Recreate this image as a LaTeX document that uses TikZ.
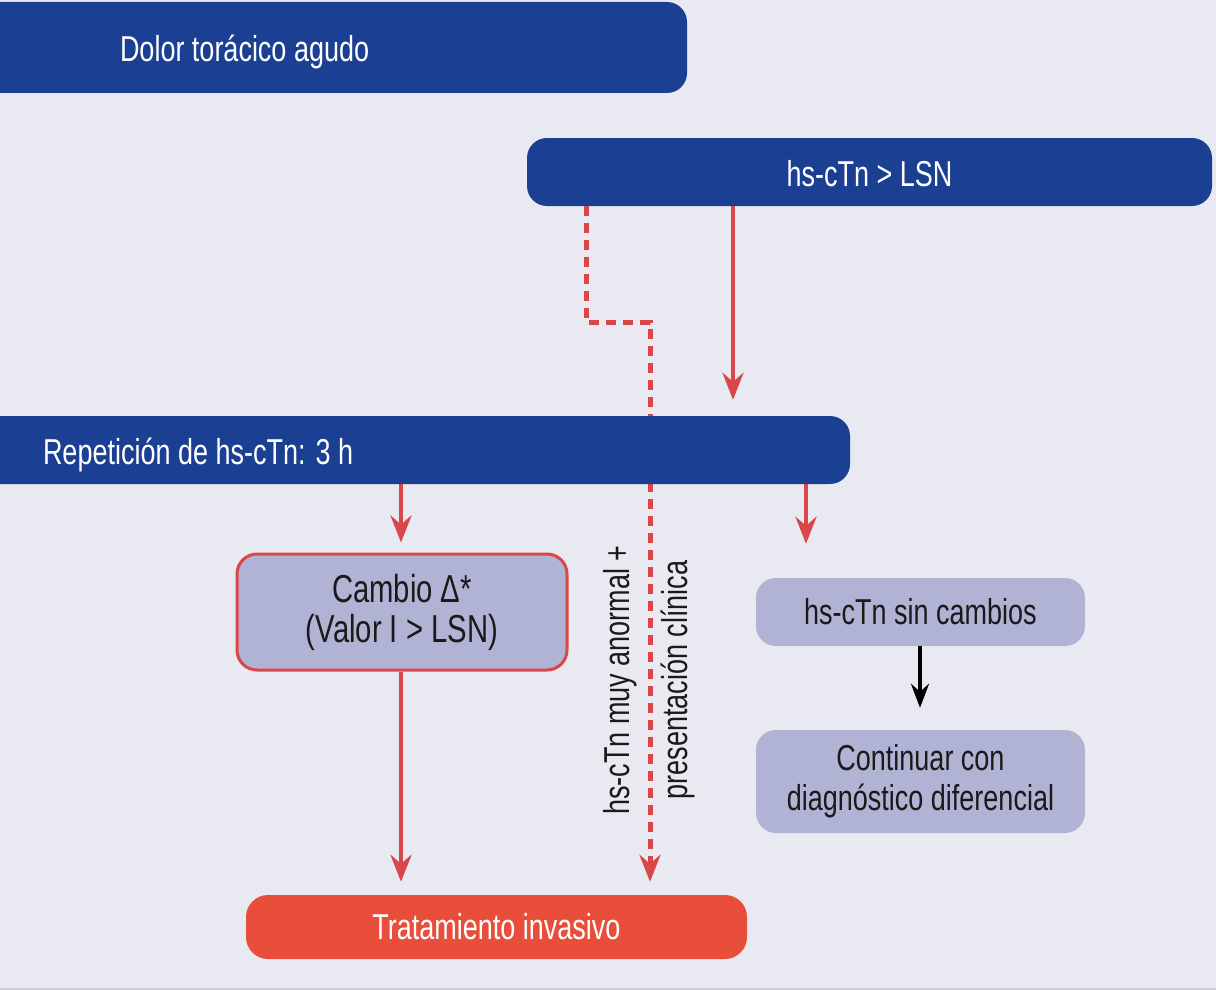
\documentclass[tikz,border=0pt]{standalone}
\usepackage{fontspec}
\setmainfont{Liberation Sans}[FakeStretch=0.75]
\usetikzlibrary{arrows.meta}
\definecolor{bg}{HTML}{E8E9F1}
\definecolor{dblue}{HTML}{1B3F93}
\definecolor{lred}{HTML}{D9474B}
\definecolor{lpurp}{HTML}{B0B3D4}
\definecolor{tred}{HTML}{E94E3B}
\definecolor{dtext}{HTML}{1A1A1A}
\definecolor{edge}{HTML}{D2CBD3}
\tikzset{
  bluebox/.style={fill=dblue, rounded corners=20pt, text=white, inner ysep=0pt,
    text height=29pt, text depth=1pt, font=\fontsize{36}{40}\selectfont},
  purpbox/.style={fill=lpurp, rounded corners=20pt, text=dtext, inner sep=0pt,
    align=center, font=\fontsize{36}{40}\selectfont},
  redbox/.style={fill=tred, rounded corners=22pt, text=white, inner sep=0pt,
    font=\fontsize{36}{40}\selectfont},
  arr/.style={draw=lred, line width=4.5pt,
    -{Stealth[length=27pt,width=21pt,inset=9pt]}},
  darr/.style={draw=lred, line width=5pt, dash pattern=on 10pt off 7pt,
    -{Stealth[length=27pt,width=21pt,inset=9pt]}},
  karr/.style={draw=black, line width=4pt,
    -{Stealth[length=24pt,width=18pt,inset=8pt]}},
}
\begin{document}
\begin{tikzpicture}[x=1pt,y=-1pt]
\fill[bg] (0,0) rectangle (1216,990);
\fill[edge] (0,988) rectangle (1216,990);
\useasboundingbox (0,0) rectangle (1216,990);

\coordinate (d1) at (586,322);
\coordinate (d2) at (650,322);

\node[bluebox, minimum width=717pt, minimum height=91pt, inner xsep=150pt,
  text width=417pt, align=left] (top) at (328.5,47.5) {\spaceskip=0pt\xspaceskip=0pt Dolor torácico agudo};
\node[bluebox, minimum width=685pt, minimum height=68pt, align=center] (trop) at (869.5,172) {hs-cTn > LSN};
\node[purpbox, draw=lred, line width=3pt, minimum width=330pt, minimum height=116pt,
  font=\fontsize{39}{40}\selectfont] (cambio) at (402,612) {Cambio \char"0394*\\(Valor I > LSN)};
\node[purpbox, minimum width=329pt, minimum height=68pt] (sin) at (920.5,612) {hs-cTn sin cambios};
\node[purpbox, minimum width=329pt, minimum height=103pt] (cont) at (920.5,781.5) {Continuar con\\diagnóstico diferencial};
\node[redbox, minimum width=501pt, minimum height=64pt] (trat) at (496.5,927) {Tratamiento invasivo};

\draw[darr, shorten >=13pt] (586,0 |- trop.south) -- (d1) -- (d2) -- (650,0 |- trat.north);

\node[bluebox, minimum width=880pt, minimum height=68pt, inner xsep=73pt,
  text width=734pt, align=left] (rep) at (410,450) {\spaceskip=0pt\xspaceskip=0pt Repetición de hs-cTn: 3 h};

\draw[arr, shorten >=16pt] (733,0 |- trop.south) -- (733,0 |- rep.north);
\draw[arr, shorten >=10pt] (401,0 |- rep.south) -- (401,0 |- cambio.north);
\draw[arr, shorten >=13pt] (401,0 |- cambio.south) -- (401,0 |- trat.north);
\draw[arr, shorten >=34pt] (806,0 |- rep.south) -- (806,0 |- sin.north);
\draw[karr, shorten >=22pt] (920,0 |- sin.south) -- (920,0 |- cont.north);

\node[rotate=90, align=center, text=dtext, inner sep=0pt,
  font=\fontsize{36}{58}\selectfont] (lbl) at (649,680) {hs-cTn muy anormal +\\presentación clínica};
\end{tikzpicture}
\end{document}
